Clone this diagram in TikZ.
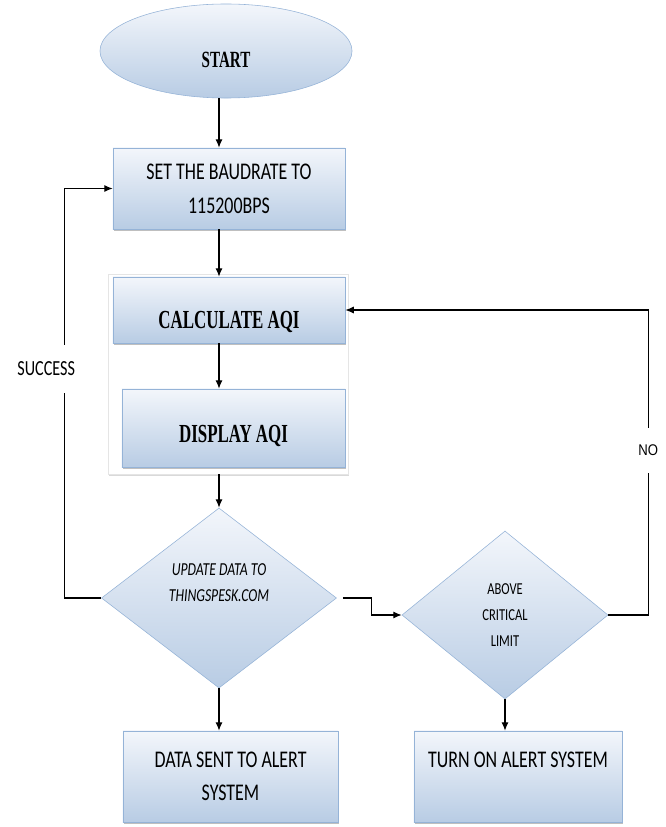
\documentclass[tikz,border=0pt]{standalone}
\usepackage{fontspec}
\setmainfont{Carlito}[FakeStretch=0.75]
\newfontfamily\headfont{Liberation Serif}[FakeStretch=0.65]
\newfontfamily\nofont{Liberation Sans}[FakeStretch=0.85]
\usetikzlibrary{shapes.geometric}
\usetikzlibrary{arrows.meta, shadows}
\usetikzlibrary{positioning}

\definecolor{boxtop}{HTML}{F3F6FB}
\definecolor{boxbottom}{HTML}{B8CCE4}
\definecolor{boxline}{HTML}{95B3D7}

\tikzset{
flowbox/.style={rectangle,draw=boxline,thin,top color=boxtop,bottom color=boxbottom,inner sep=0pt,font=\fontsize{17}{23.5}\selectfont,drop shadow={shadow xshift=0.5pt,shadow yshift=-1.5pt,opacity=0.5}},
startbox/.style={ellipse,draw=boxline,thin,top color=boxtop,bottom color=boxbottom,inner sep=0pt,minimum width=6.3cm,minimum height=2.35cm},
decision/.style={diamond,draw=boxline,thin,top color=boxtop,bottom color=boxbottom,inner sep=0pt,align=center},
headtext/.style={font=\headfont\bfseries\fontsize{18.5}{21}\selectfont,text depth=0pt},
flow/.style={draw=black,line width=0.8pt,-{Latex[length=6pt,width=5pt]}},
looplabel/.style={fill=white,inner xsep=1pt,inner ysep=0.42cm}
}

\begin{document}
\begin{tikzpicture}[x=0.025cm,y=-0.025cm]
\useasboundingbox (0,0) rectangle (665,827);
\coordinate (col) at (219,0);

\node[startbox,font=\headfont\bfseries\fontsize{16.5}{18}\selectfont,text height=23.7pt,text depth=0pt] (start) at (226,51) {START};
\node[flowbox,align=center,minimum width=5.8cm,minimum height=2.025cm,font=\fontsize{17}{24}\selectfont] (baud) at (229,188.5) {SET THE BAUDRATE TO\\115200BPS};

\node[draw=gray!20,fill=white,minimum width=6cm,minimum height=5cm,drop shadow={shadow xshift=1pt,shadow yshift=-1.5pt,opacity=0.3}] (panel) at (228,374) {};
\node[flowbox,headtext,minimum width=5.8cm,minimum height=1.65cm,text height=26.2pt] (calc) at (229,310) {CALCULATE AQI};
\node[flowbox,headtext,minimum width=5.575cm,minimum height=1.95cm,text height=20.8pt] (disp) at (233.5,428) {DISPLAY AQI};

\node[decision,minimum width=5.875cm,minimum height=4.5cm,font=\itshape\fontsize{13}{18.4}\selectfont] (upd) at (219,598) {UPDATE DATA TO\\THINGSPESK.COM\\[4pt]\mbox{}};
\node[decision,minimum width=5.15cm,minimum height=4.2cm,font=\fontsize{11.9}{18.8}\selectfont] (limit) at (505,615) {ABOVE\\CRITICAL\\LIMIT};

\node[flowbox,align=center,minimum width=5.375cm,minimum height=2.275cm] (sent) at (230.5,776.5) {DATA SENT TO ALERT\\SYSTEM};
\node[flowbox,align=center,minimum width=5.2cm,minimum height=2.275cm] (alert) at (518,776.5) {TURN ON ALERT SYSTEM\\\mbox{}};

\draw[flow] (start.south -| col) -- (baud.north -| col);
\draw[flow] (baud.south -| col) -- (calc.north -| col);
\draw[flow] (calc.south -| col) -- (disp.north -| col);
\draw[flow] (panel.south -| col) -- (upd.north);
\draw[flow] (upd.south) -- (sent.north -| upd.south);
\draw[flow] (limit.south) -- (alert.north -| limit.south);
\draw[flow] ([xshift=0.15cm]upd.east) -- ++(29,0) |- (limit.west);
\draw[flow] (limit.east) -- ++(40,0) coordinate (nocorner) -- node[looplabel,pos=0.54,font=\nofont\fontsize{11}{13}\selectfont] (nolabel) {NO} (nocorner |- calc.east) -- (calc.east);
\draw[flow] (upd.west) -- ++(-37,0) coordinate (okcorner) -- node[looplabel,pos=0.56,xshift=-0.45cm,font=\fontsize{15.3}{16}\selectfont] (oklabel) {SUCCESS} (okcorner |- baud.west) -- (baud.west);

\end{tikzpicture}
\end{document}
